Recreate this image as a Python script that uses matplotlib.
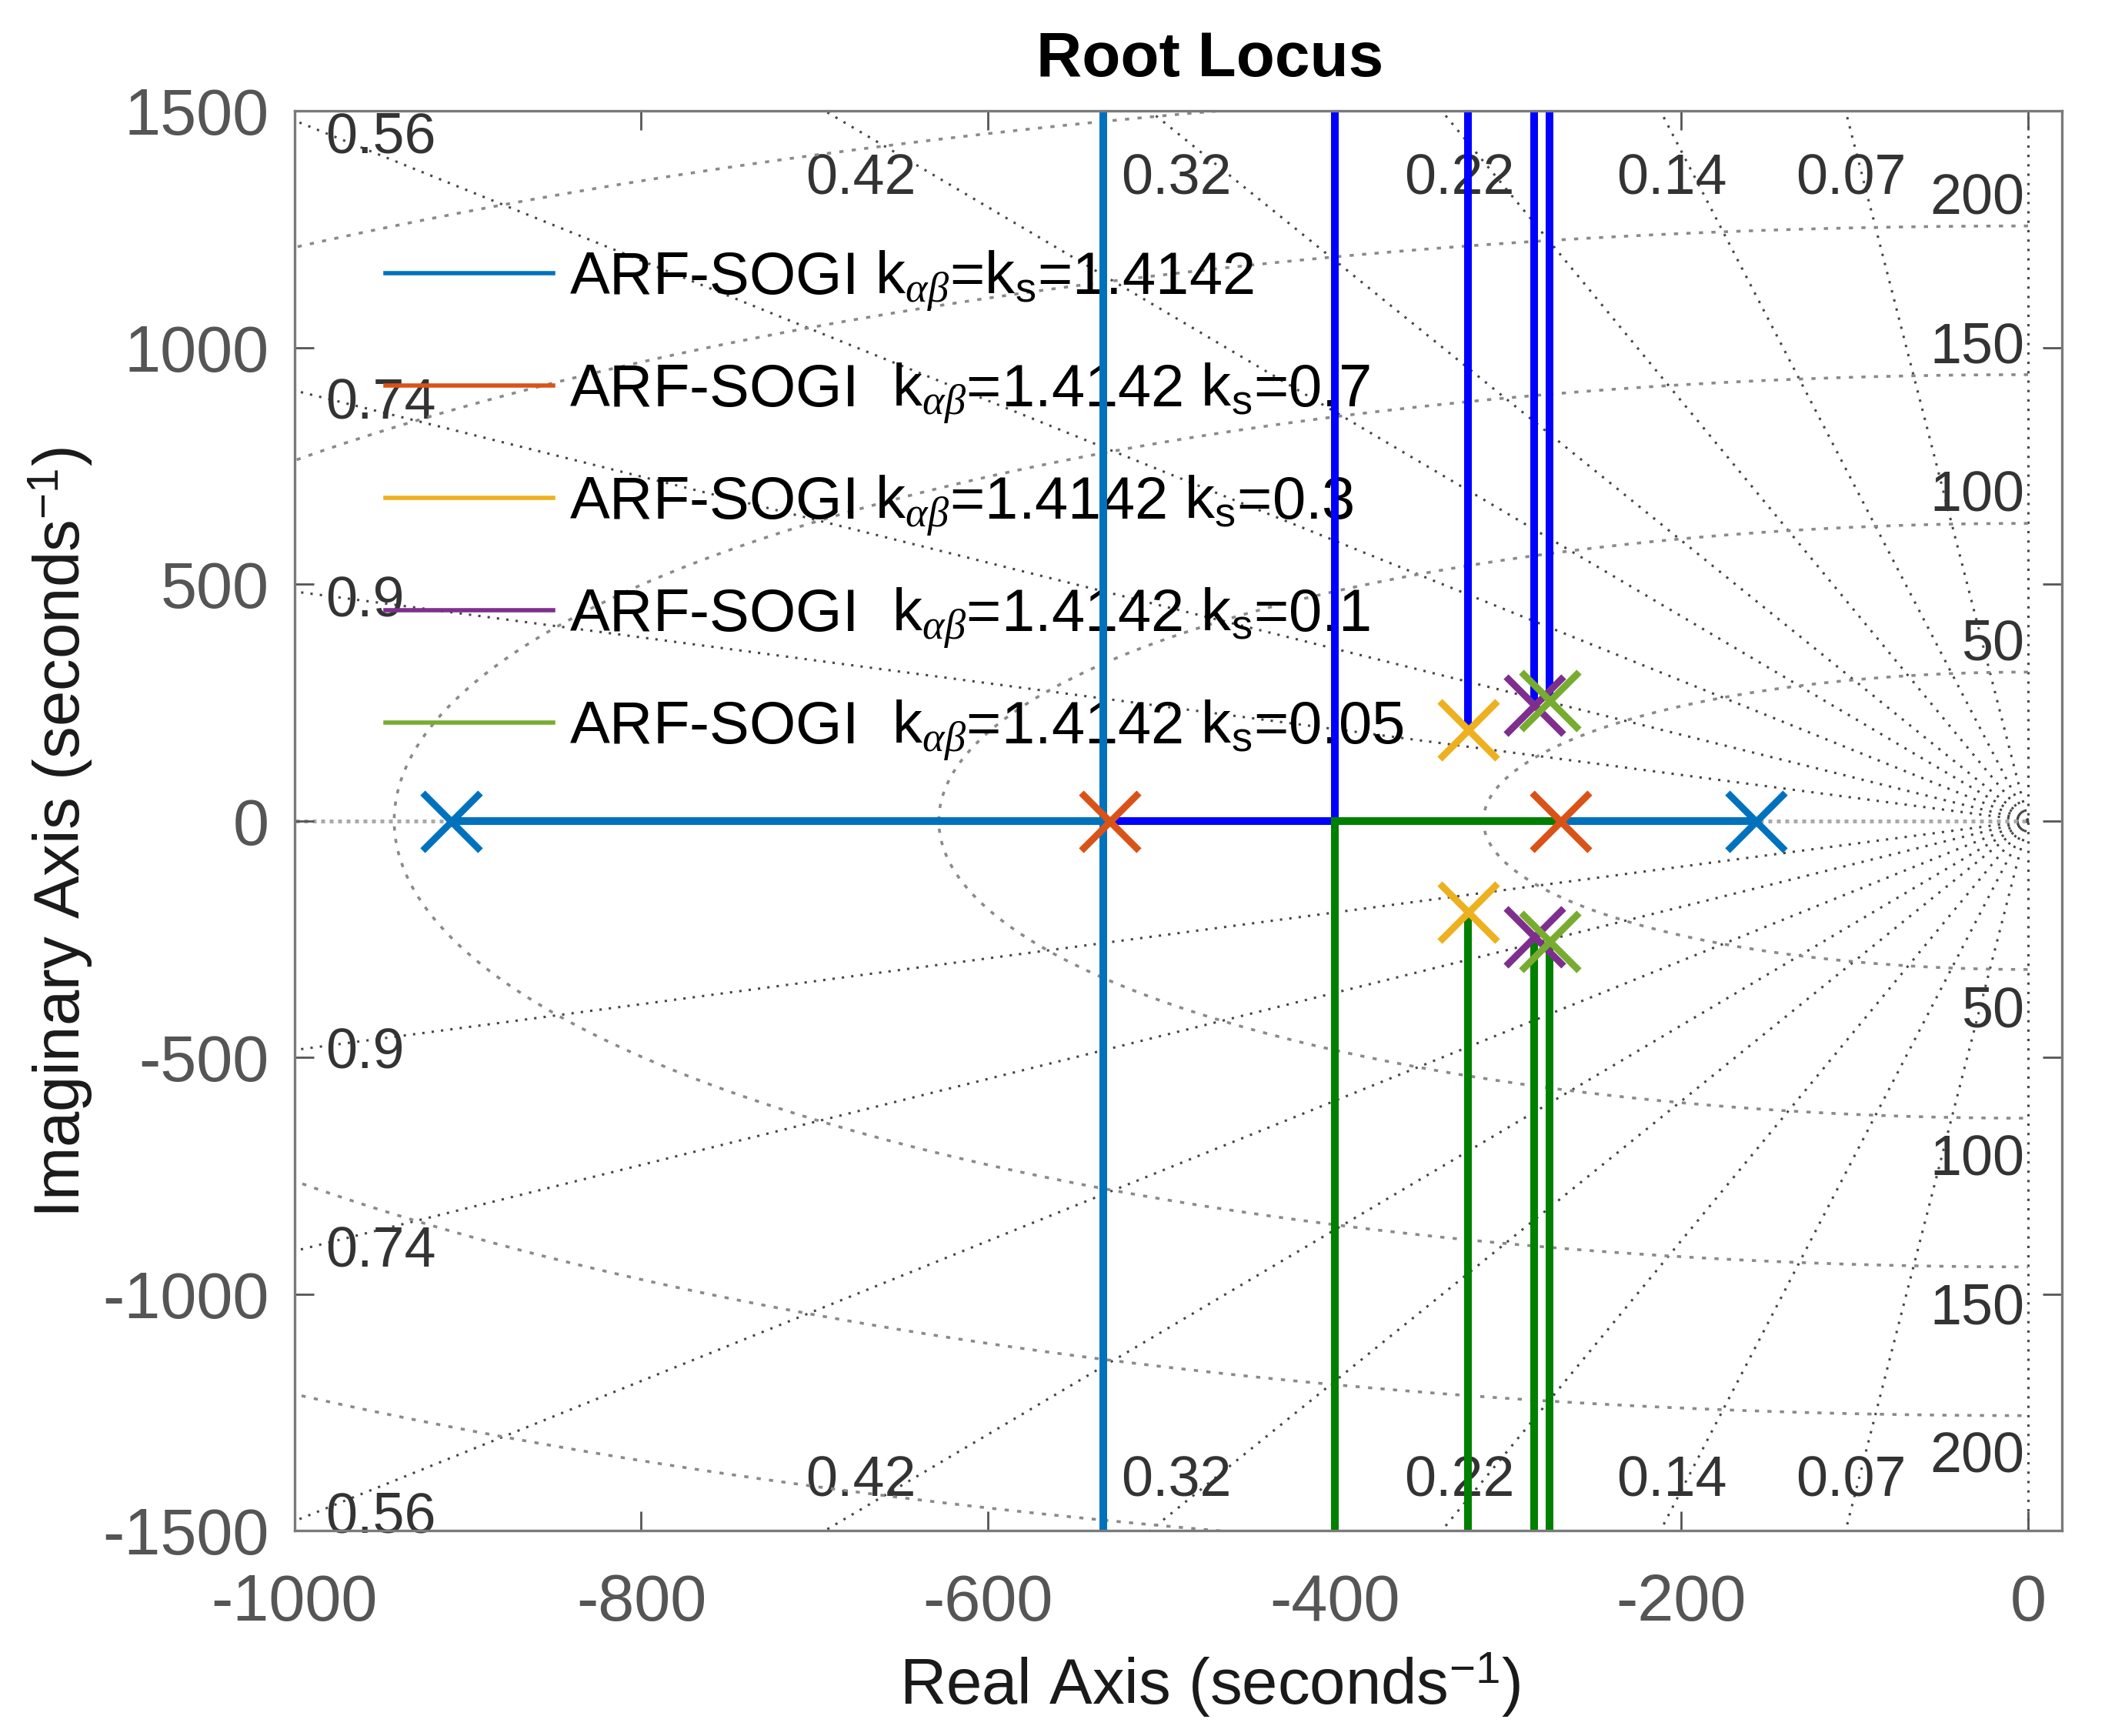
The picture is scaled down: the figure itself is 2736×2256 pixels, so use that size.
import numpy as np
import matplotlib
matplotlib.use("Agg")
import matplotlib.pyplot as plt
from matplotlib.lines import Line2D

plt.rcParams["font.family"] = ["Liberation Sans", "DejaVu Sans"]
plt.rcParams["mathtext.fontset"] = "custom"
plt.rcParams["mathtext.rm"] = "Liberation Sans"
plt.rcParams["mathtext.sf"] = "Liberation Sans"
plt.rcParams["mathtext.it"] = "Liberation Serif:italic"
plt.rcParams["axes.unicode_minus"] = False

labels = [
    r"ARF-SOGI k$_{\alpha\beta}$=k$_\mathrm{s}$=1.4142",
    r"ARF-SOGI  k$_{\alpha\beta}$=1.4142 k$_\mathrm{s}$=0.7",
    r"ARF-SOGI k$_{\alpha\beta}$=1.4142 k$_\mathrm{s}$=0.3",
    r"ARF-SOGI  k$_{\alpha\beta}$=1.4142 k$_\mathrm{s}$=0.1",
    r"ARF-SOGI  k$_{\alpha\beta}$=1.4142 k$_\mathrm{s}$=0.05",
]
marker_colors = ["#0072BD", "#D95319", "#EDB120", "#7E2F8E", "#77AC30"]
up_colors = ["#0072BD", "#0000FF", "#0000FF", "#0000FF", "#0000FF"]
down_colors = ["#0072BD", "#008000", "#008000", "#008000", "#008000"]

# open-loop poles (first = left / upper, second = right / lower)
pole_re = [[-910, -157], [-530, -270], [-323, -323], [-285, -285], [-276, -276]]
pole_im = [[0, 0], [0, 0], [193, -193], [245, -245], [255, -255]]
# breakaway point on the real axis (None for complex pole pairs)
breakaway = [-533.5, -400, None, None, None]

# s-plane grid
zeta_vals = [0.07, 0.14, 0.22, 0.32, 0.42, 0.56, 0.74, 0.9]
wn_hz = [50, 100, 150, 200, 250, 300]
wn_labels = [50, 100, 150, 200]

xticks = [-1000, -800, -600, -400, -200, 0]
yticks = [-1500, -1000, -500, 0, 500, 1000, 1500]
xlim = (-1000, 19.5)
ylim = (-1500, 1500)

FAR = 1e4
ray_col = "#454545"
circ_col = "#8a8a8a"
txt_col = "#333333"

fig = plt.figure(figsize=(13.68, 11.28), dpi=200)
ax = fig.add_axes([0.1399, 0.1182, 0.8396, 0.8180])

# ---- grid: damping rays and natural frequency circles ----
for z in zeta_vals:
    s = np.sqrt(1 - z ** 2)
    for sign in (1, -1):
        ax.plot([0, -FAR * z], [0, sign * FAR * s], color=ray_col, lw=1.1,
                ls=(0, (1, 3)), zorder=1)
    if 1500 * z / s < 1000:
        xl = -1455 * z / s
        ax.text(xl, 1355, f"{z:g}", ha="center", va="center",
                fontsize=26.5, color=txt_col, zorder=1)
        ax.text(xl, -1395, f"{z:g}", ha="center", va="center",
                fontsize=26.5, color=txt_col, zorder=1)
    else:
        yl = 985 * s / z
        for sign in (1, -1):
            ax.text(-982, sign * yl - 15, f"{z:g}", ha="left", va="center",
                    fontsize=26.5, color=txt_col, zorder=1)

ax.plot([0, 0], [-FAR, FAR], color=ray_col, lw=1.1, ls=(0, (1, 3)), zorder=1)
ax.plot([-FAR, 0], [0, 0], color="#aaaaaa", lw=1.8, ls=(0, (1, 1.2)), zorder=1)

th = np.linspace(np.pi / 2, 3 * np.pi / 2, 400)
for f in wn_hz:
    r = 2 * np.pi * f
    ax.plot(r * np.cos(th), r * np.sin(th), color=circ_col, lw=1.3,
            ls=(0, (1.5, 3)), zorder=1)
for f in wn_labels:
    r = 2 * np.pi * f
    ax.text(-2, r + 57, str(f), ha="right", va="center", fontsize=26.5,
            color=txt_col, zorder=1)
    ax.text(-2, -r - 89, str(f), ha="right", va="center", fontsize=26.5,
            color=txt_col, zorder=1)

# ---- locus branches ----
lw = 3.6
for i in range(len(labels)):
    (x1, x2), (y1, y2) = pole_re[i], pole_im[i]
    if breakaway[i] is not None:
        b = breakaway[i]
        ax.plot([x1, b], [0, 0], color=up_colors[i], lw=lw, zorder=2)
        ax.plot([x2, b], [0, 0], color=down_colors[i], lw=lw, zorder=2)
        ax.plot([b, b], [0, FAR], color=up_colors[i], lw=lw, zorder=2)
        ax.plot([b, b], [0, -FAR], color=down_colors[i], lw=lw, zorder=2)
    else:
        ax.plot([x1, x1], [y1, FAR], color=up_colors[i], lw=lw, zorder=2)
        ax.plot([x2, x2], [y2, -FAR], color=down_colors[i], lw=lw, zorder=2)

for i in range(len(labels)):
    ax.plot(pole_re[i], pole_im[i], ls="none", marker="x", ms=27, mew=3.2,
            color=marker_colors[i], zorder=3)

# ---- legend ----
handles = [Line2D([], [], color=c, lw=2) for c in marker_colors]
leg = ax.legend(handles, labels, loc="upper left", bbox_to_anchor=(0.0514, 0.903),
                frameon=False, fontsize=28, handlelength=2.8, handletextpad=0.27,
                labelspacing=0.8, borderpad=0, borderaxespad=0)
leg.set_zorder(1.5)

# ---- axes ----
ax.set_xlim(*xlim)
ax.set_ylim(*ylim)
ax.set_xticks(xticks)
ax.set_yticks(yticks)
ax.tick_params(direction="in", top=True, right=True, length=9, width=1,
               colors="#555555", labelsize=30.5, pad=12)
ax.tick_params(axis="x", pad=19.5)
for sp in ax.spines.values():
    sp.set_color("#7a7a7a")
    sp.set_linewidth(1.2)

ax.set_title("Root Locus", fontsize=29.5, fontweight="bold", pad=16, x=0.518)
ax.set_xlabel(r"Real Axis (seconds$^{\mathrm{-1}}$)", fontsize=30, color="#1a1a1a",
              va="center")
ax.set_ylabel(r"Imaginary Axis (seconds$^{\mathrm{-1}}$)", fontsize=30, color="#1a1a1a",
              va="center")
ax.xaxis.set_label_coords(0.518, -0.1088)
ax.yaxis.set_label_coords(-0.1324, 0.4917)

fig.savefig("out.png", dpi=200)
plt.close(fig)
